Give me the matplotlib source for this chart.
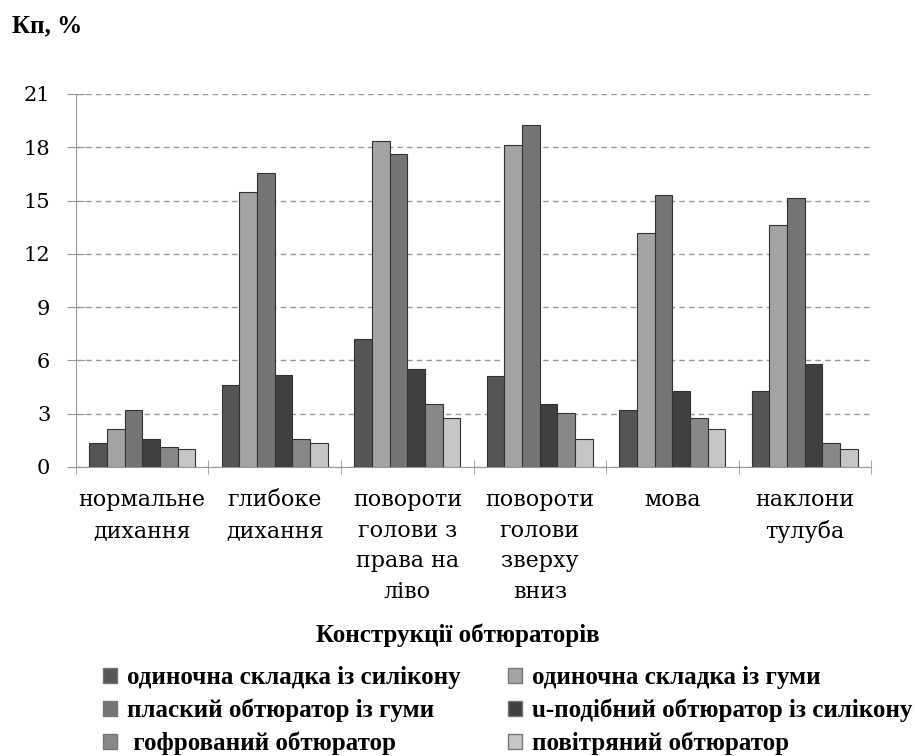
import numpy as np
import matplotlib
matplotlib.use("Agg")
import matplotlib.pyplot as plt
from matplotlib.patches import Patch

categories = ["нормальне\nдихання", "глибоке\nдихання", "повороти\nголови з\nправа на\nліво",
              "повороти\nголови\nзверху\nвниз", "мова", "наклони\nтулуба"]
series_names = ["одиночна складка із силікону", "одиночна складка із гуми",
                "плаский обтюратор із гуми", "u-подібний обтюратор із силікону",
                " гофрований обтюратор", "повітряний обтюратор"]
silicone_single = [1.35, 4.6, 7.2, 5.1, 3.2, 4.3]
rubber_single = [2.15, 15.5, 18.35, 18.1, 13.2, 13.6]
rubber_flat = [3.2, 16.55, 17.6, 19.25, 15.3, 15.15]
silicone_u = [1.55, 5.2, 5.5, 3.55, 4.3, 5.8]
corrugated = [1.1, 1.55, 3.55, 3.05, 2.75, 1.35]
air = [1.0, 1.35, 2.75, 1.55, 2.15, 1.0]
values = [silicone_single, rubber_single, rubber_flat, silicone_u, corrugated, air]
colors = ["#555555", "#a3a3a3", "#757575", "#404040", "#888888", "#c6c6c6"]

plt.rcParams['font.family'] = ['Liberation Serif', 'DejaVu Serif']

fig = plt.figure(figsize=(9.15, 7.56), dpi=100)
ax = fig.add_axes([0.083, 0.3823, 0.869, 0.4934])

x = np.arange(len(categories))
w = 0.8 / 6
for i, vals in enumerate(values):
    ax.bar(x - 0.4 + w * (i + 0.5), vals, w, color=colors[i], edgecolor="#333333",
           linewidth=0.8, label=series_names[i], zorder=3)

ax.set_xlim(-0.5, len(categories) - 0.5)
ax.set_ylim(0, 21)
ax.set_yticks(np.arange(0, 22, 3))
ax.tick_params(axis="y", length=13, direction="inout", color="#999999", pad=12)
for lab in ax.get_yticklabels():
    lab.set_fontfamily("DejaVu Serif")
    lab.set_fontsize(15)
ax.set_xticks(x, categories)
ax.set_xticks(np.arange(-0.5, len(categories)), minor=True)
ax.tick_params(axis="x", which="major", length=0, pad=16)
ax.tick_params(axis="x", which="minor", length=10, direction="inout", color="#999999")
for lab in ax.get_xticklabels():
    lab.set_fontfamily("DejaVu Serif")
    lab.set_fontsize(16)
    lab.set_linespacing(1.5)
ax.grid(axis="y", linestyle=(0, (4, 3)), color="#999999", linewidth=1, zorder=0)
ax.spines["top"].set_visible(False)
ax.spines["right"].set_visible(False)
ax.spines["left"].set_color("#999999")
ax.spines["bottom"].set_color("#999999")

fig.text(0.013, 0.966, "Кп, %", fontsize=18, fontweight="bold", va="center")

fig.text(0.5, 1 - 635 / 756, "Конструкції обтюраторів", fontsize=18,
         fontweight="bold", ha="center", va="center")

handles = [Patch(facecolor=c, edgecolor="#777777") for c in colors]
order = [0, 2, 4, 1, 3, 5]
fig.legend([handles[k] for k in order], [series_names[k] for k in order],
           loc="upper left", bbox_to_anchor=(0.099, 0.135), borderpad=0,
           ncol=2, frameon=False, prop={"size": 18, "weight": "bold"},
           handlelength=0.55, handleheight=0.55,
           columnspacing=1.9, labelspacing=0.38, handletextpad=0.4)

fig.savefig("out.png", dpi=100)
